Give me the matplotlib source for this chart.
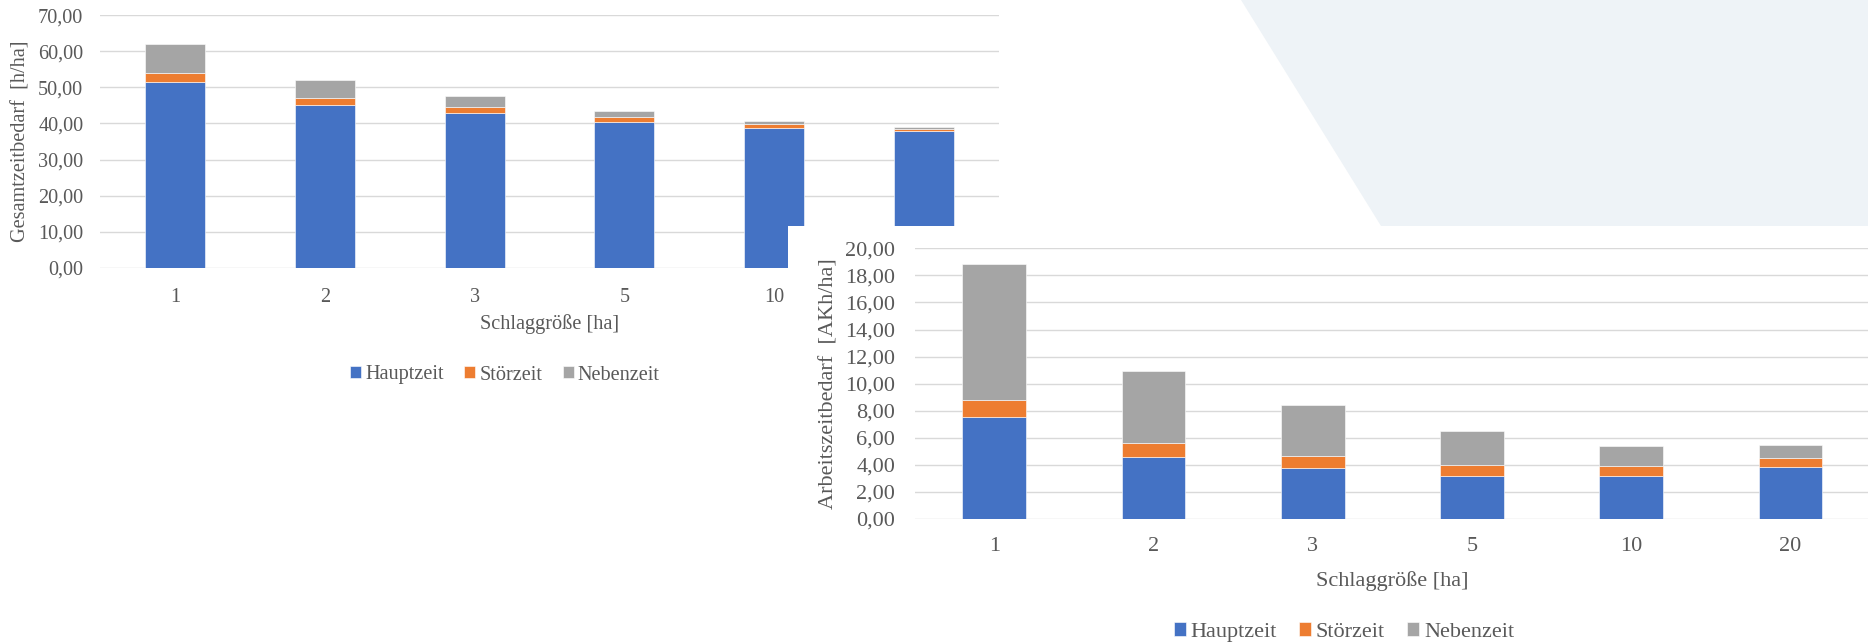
import matplotlib
matplotlib.use('Agg')
import matplotlib.pyplot as plt
from matplotlib.patches import Polygon
import numpy as np

# Schlaggrößen
categories = ['1', '2', '3', '5', '10', '20']
series_names = ['Hauptzeit', 'Störzeit', 'Nebenzeit']

# Gesamtzeitbedarf [h/ha]
ges_haupt = [51.4, 45.0, 42.8, 40.3, 38.8, 37.8]
ges_stoer = [2.7, 2.2, 1.8, 1.4, 1.0, 0.8]
ges_neben = [8.0, 4.9, 2.9, 1.8, 1.0, 0.5]

# Arbeitszeitbedarf [AKh/ha]
ak_haupt = [7.56, 4.61, 3.74, 3.20, 3.20, 3.82]
ak_stoer = [1.21, 1.01, 0.94, 0.81, 0.74, 0.69]
ak_neben = [10.05, 5.34, 3.74, 2.47, 1.45, 0.93]

ges_ticks = [0, 10, 20, 30, 40, 50, 60, 70]
ak_ticks = [0, 2, 4, 6, 8, 10, 12, 14, 16, 18, 20]

colors = ['#4472C4', '#ED7D31', '#A5A5A5']
text_col = '#595959'
grid_col = '#D9D9D9'

plt.rcParams['font.family'] = ['Liberation Serif', 'DejaVu Serif']

W, H = 1868, 644
fig = plt.figure(figsize=(W / 100, H / 100), dpi=100)
fig.patch.set_facecolor('white')

# light background shape top right
bg = Polygon([(1241 / W, 1), (W / W, 1), (W / W, 1 - 225.7 / H), (1381 / W, 1 - 225.7 / H)],
             closed=True, transform=fig.transFigure, facecolor='#EEF3F7', edgecolor='none', zorder=-5)
fig.patches.append(bg)


def fmt(v):
    return f'{v:.2f}'.replace('.', ',')


def draw_chart(ax, series, ticks, ylabel, fs, ytick_pad, xtick_pad, ylab_x, xlab_y, legend_xy):
    x = np.arange(len(categories))
    bottom = np.zeros(len(categories))
    for vals, col, name in zip(series, colors, series_names):
        ax.bar(x, vals, 0.4, bottom=bottom, color=col, edgecolor='white',
               linewidth=0.4, label=name, zorder=3)
        bottom = bottom + np.array(vals)
    ax.set_xlim(-0.5, len(categories) - 0.5)
    ax.set_ylim(ticks[0], ticks[-1])
    ax.set_yticks(ticks)
    ax.set_yticklabels([fmt(t) for t in ticks])
    ax.set_xticks(x)
    ax.set_xticklabels(categories)
    ax.yaxis.grid(True, color=grid_col, linewidth=1.0, zorder=0)
    ax.set_axisbelow(True)
    for s in ax.spines.values():
        s.set_visible(False)
    ax.tick_params(axis='both', length=0, labelsize=fs, labelcolor=text_col)
    ax.tick_params(axis='y', pad=ytick_pad)
    ax.tick_params(axis='x', pad=xtick_pad)
    ax.set_facecolor('none')
    ax.set_ylabel(ylabel, fontsize=fs, color=text_col, va='center')
    ax.yaxis.set_label_coords(ylab_x, 0.5)
    ax.set_xlabel('Schlaggröße [ha]', fontsize=fs, color=text_col, va='center')
    ax.xaxis.set_label_coords(0.5, xlab_y)
    ax.legend(loc='center', bbox_to_anchor=legend_xy, bbox_transform=fig.transFigure,
              ncol=3, frameon=False, fontsize=fs, labelcolor=text_col,
              handlelength=0.55, handleheight=0.55, handletextpad=0.2, columnspacing=1.0)


# chart 1
ax1 = fig.add_axes([100 / W, 1 - 267.7 / H, 899 / W, 252.4 / H])
draw_chart(ax1, [ges_haupt, ges_stoer, ges_neben], ges_ticks,
           'Gesamtzeitbedarf  [h/ha]', 14.6, 12, 14.5, (21 - 100) / 899, -56 / 252.4,
           (505 / W, 1 - 375 / H))

# white panel of chart 2 lying over chart 1
panel = fig.add_axes([788 / W, 0, (W - 788) / W, (H - 225.7) / H])
panel.set_facecolor('white')
panel.set_xticks([])
panel.set_yticks([])
for s in panel.spines.values():
    s.set_visible(False)

# chart 2
ax2 = fig.add_axes([914.7 / W, 1 - 519 / H, 955.4 / W, 270.7 / H])
draw_chart(ax2, [ak_haupt, ak_stoer, ak_neben], ak_ticks,
           'Arbeitszeitbedarf  [AKh/ha]', 16, 14, 13, (829 - 914.7) / 955.4, -62 / 270.7,
           (1344 / W, 1 - 632 / H))

fig.savefig('out.png', dpi=100)
